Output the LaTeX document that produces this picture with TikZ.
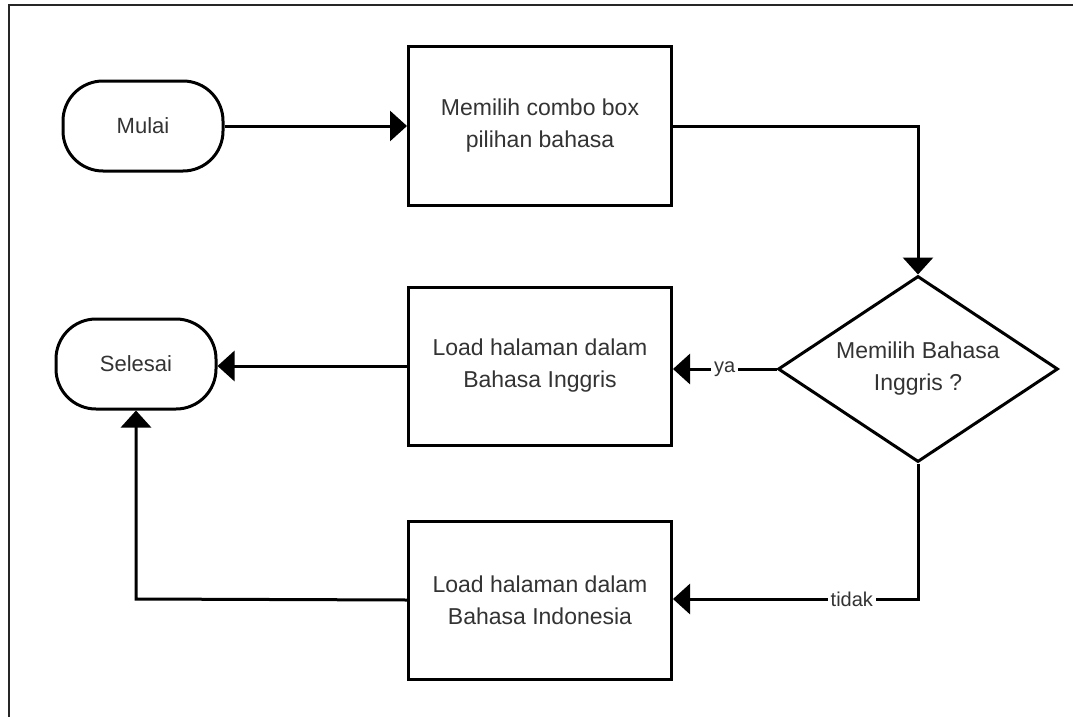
\documentclass[tikz,border=0pt]{standalone}
\usepackage{fontspec}
\setmainfont{Liberation Sans}
\usetikzlibrary{shapes.geometric,arrows.meta}
\definecolor{txt}{HTML}{333333}
\begin{document}
\begin{tikzpicture}[x=1pt,y=-1pt,
  every node/.style={text=txt},
  term/.style={draw=black,line width=3pt,rectangle,rounded corners=40pt,
    minimum width=160pt,minimum height=90pt,inner sep=0pt,
    font=\fontsize{22}{31}\selectfont},
  procbox/.style={draw=black,line width=3pt,rectangle,
    minimum width=263pt,minimum height=158pt,inner sep=0pt,align=center,
    font=\fontsize{23}{32}\selectfont},
  decide/.style={draw=black,line width=3pt,diamond,aspect=1.5,
    minimum width=280pt,minimum height=186pt,inner sep=0pt,align=center,
    font=\fontsize{23}{32}\selectfont},
  flow/.style={draw=black,line width=3pt,-{Triangle[length=17pt,width=30pt]}},
  lbl/.style={fill=white,inner sep=3pt,font=\fontsize{20}{24}\selectfont}]
\useasboundingbox (0,0) rectangle (1073,717);
\clip (0,0) rectangle (1073,717);
\fill[white] (0,0) rectangle (1073,717);
% outer frame
\draw[line width=2.2pt,black!85] (9,5) rectangle (1090,740);

% nodes
\node[term] (mulai) at (143,126) {Mulai};
\node[procbox] (pilih) at (540,126) {Memilih combo box\\pilihan bahasa};
\node[decide] (tanya) at (918,369) {Memilih Bahasa\\Inggris ?};
\node[procbox] (inggris) at (540,366) {Load halaman dalam\\Bahasa Inggris};
\node[term] (selesai) at (136,364) {Selesai};
\node[procbox] (indo) at (540,600) {Load halaman dalam\\Bahasa Indonesia};
\coordinate (belok1) at (918,126);
\coordinate (belok2) at (918,599);
\coordinate (belok3) at (136,599);

% connectors
\draw[flow] (mulai.east) -- (pilih.west);
\draw[flow] (pilih.east) -- (belok1) -- (tanya.north);
\draw[flow] (tanya.west) -- node[lbl] {ya} (tanya.west -| inggris.east);
\draw[flow] (tanya.south) -- (belok2) -- node[lbl,pos=0.27] {tidak} (belok2 -| indo.east);
\draw[flow] (inggris.west) -- (inggris.west -| selesai.east);
\draw[flow] (indo.west) -- (belok3) -- (selesai.south);
\end{tikzpicture}
\end{document}
